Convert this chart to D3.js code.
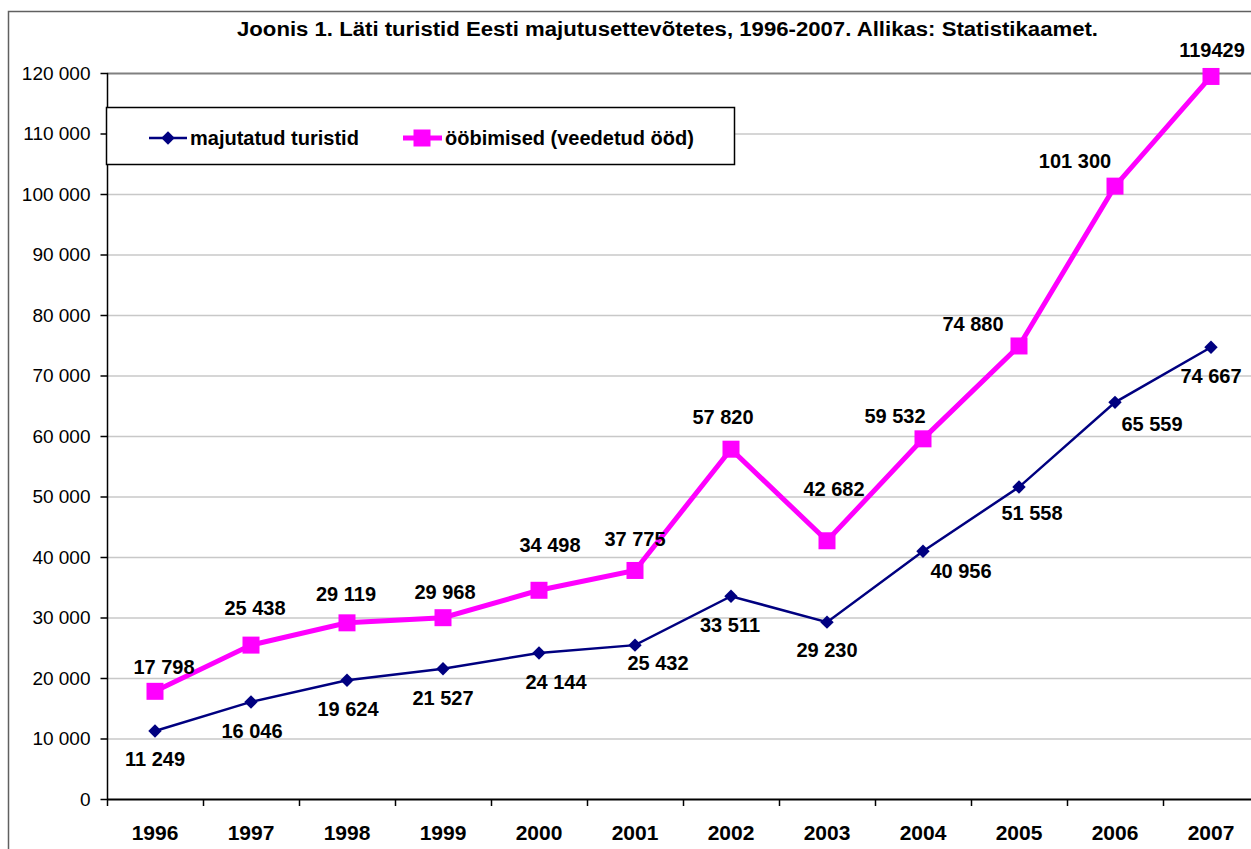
<!DOCTYPE html>
<html>
  <head>
    <meta charset="utf-8" />
    <script src="https://d3js.org/d3.v7.min.js"></script>
    <title>Läti turistid Eesti majutusettevõtetes</title>
    <style>
      body {
        margin: 0;
        background-color: white;
      }
      #canvas {
        display: block;
        overflow: hidden;
        font-family: "Liberation Sans", Arial, sans-serif;
      }
    </style>
  </head>
  <body>
    <svg id="canvas" width="1251" height="849"></svg>

    <script>
      // data
      const years = ["1996", "1997", "1998", "1999", "2000", "2001", "2002", "2003", "2004", "2005", "2006", "2007"];
      const tourists = [11249, 16046, 19624, 21527, 24144, 25432, 33511, 29230, 40956, 51558, 65559, 74667];
      const nights = [17798, 25438, 29119, 29968, 34498, 37775, 57820, 42682, 59532, 74880, 101300, 119429];
      const touristLabels = ["11 249", "16 046", "19 624", "21 527", "24 144", "25 432", "33 511", "29 230", "40 956", "51 558", "65 559", "74 667"];
      const nightLabels = ["17 798", "25 438", "29 119", "29 968", "34 498", "37 775", "57 820", "42 682", "59 532", "74 880", "101 300", "119429"];
      const yTicks = [0, 10000, 20000, 30000, 40000, 50000, 60000, 70000, 80000, 90000, 100000, 110000, 120000];
      const seriesNames = ["majutatud turistid", "ööbimised (veedetud ööd)"];
      const title = "Joonis 1. Läti turistid Eesti majutusettevõtetes, 1996-2007. Allikas: Statistikaamet.";

      // label nudges (px) relative to the point, as placed in the original
      const touristShift = [[0, 28], [1, 29], [1, 29], [0, 29], [17, 29], [23, 18], [-1, 29], [0, 28], [38, 20], [13, 26], [37, 21], [0, 29]];
      const nightShift = [[9, -25], [4, -37], [-1, -29], [2, -26], [11, -45], [0, -32], [-8, -32], [7, -52], [-28, -23], [-46, -22], [-40, -25], [1, -27]];

      const svg = d3.select("#canvas");

      // outer chart frame (right and bottom edges fall outside the picture)
      svg.append("path")
        .attr("d", "M8.5,849 V11.5 H1251")
        .style("fill", "none")
        .style("stroke", "#606060")
        .style("stroke-width", 1.5);

      const plotLeft = 107, plotTop = 73, plotBottom = 799, band = 96;

      const xScale = d3.scaleBand().domain(years).range([plotLeft, plotLeft + band * years.length]);
      const yScale = d3.scaleLinear().domain([0, 120000]).range([plotBottom, plotTop]);
      const fmt = d3.formatLocale({ decimal: ",", thousands: " ", grouping: [3], currency: ["", ""] }).format(",d");
      const cx = (d, i) => xScale(years[i]) + xScale.bandwidth() / 2;

      // gridlines
      svg.append("g")
        .selectAll("line")
        .data(yTicks.filter((d) => d > 0))
        .enter()
        .append("line")
        .attr("x1", plotLeft)
        .attr("x2", 1251)
        .attr("y1", (d) => yScale(d) + 0.5)
        .attr("y2", (d) => yScale(d) + 0.5)
        .style("stroke", (d) => (d === 120000 ? "#808080" : "#c8c8c8"))
        .style("stroke-width", (d) => (d === 120000 ? 2 : 1.5));

      // y axis
      const yAxis = d3.axisLeft(yScale).tickValues(yTicks).tickFormat(fmt).tickSize(7).tickPadding(10);
      const yG = svg.append("g").attr("transform", "translate(" + (plotLeft + 0.5) + ",0)").call(yAxis);
      yG.select(".domain").attr("d", "M0," + plotTop + "V" + plotBottom).style("stroke", "#000").style("stroke-width", 1.5);
      yG.selectAll(".tick line").style("stroke", "#000").style("stroke-width", 1.5);
      yG.selectAll(".tick text").style("font-size", "19px").style("fill", "#000").attr("dy", "0.34em");
      yG.attr("font-family", null);

      // x axis: ticks between categories, labels centred
      const xG = svg.append("g");
      xG.append("line")
        .attr("x1", plotLeft)
        .attr("x2", 1251)
        .attr("y1", plotBottom + 0.5)
        .attr("y2", plotBottom + 0.5)
        .style("stroke", "#000")
        .style("stroke-width", 2);
      xG.selectAll(".xtick")
        .data(years)
        .enter()
        .append("line")
        .attr("class", "xtick")
        .attr("x1", (d) => xScale(d) + 0.5)
        .attr("x2", (d) => xScale(d) + 0.5)
        .attr("y1", plotBottom)
        .attr("y2", plotBottom + 7)
        .style("stroke", "#000")
        .style("stroke-width", 1.5);
      xG.selectAll(".xlabel")
        .data(years)
        .enter()
        .append("text")
        .attr("class", "xlabel")
        .attr("x", (d) => xScale(d) + xScale.bandwidth() / 2)
        .attr("y", 840)
        .attr("text-anchor", "middle")
        .style("font-size", "21px")
        .style("font-weight", "bold")
        .text((d) => d);

      // title
      svg.append("text")
        .attr("x", 237)
        .attr("y", 36)
        .attr("textLength", 861)
        .attr("lengthAdjust", "spacingAndGlyphs")
        .style("font-size", "20px")
        .style("font-weight", "bold")
        .text(title);

      const lineGen = d3.line().x((d, i) => cx(d, i)).y((d) => yScale(d));

      // ööbimised
      svg.append("path")
        .datum(nights)
        .attr("d", lineGen)
        .style("fill", "none")
        .style("stroke", "#ff00ff")
        .style("stroke-width", 5);
      svg.append("g")
        .selectAll("path")
        .data(nights)
        .enter()
        .append("path")
        .attr("d", d3.symbol(d3.symbolSquare, 289))
        .attr("transform", (d, i) => "translate(" + cx(d, i) + "," + yScale(d) + ")")
        .style("fill", "#ff00ff");

      // majutatud turistid
      svg.append("path")
        .datum(tourists)
        .attr("d", lineGen)
        .style("fill", "none")
        .style("stroke", "#000080")
        .style("stroke-width", 2.5);
      svg.append("g")
        .selectAll("path")
        .data(tourists)
        .enter()
        .append("path")
        .attr("d", d3.symbol(d3.symbolSquare, 90))
        .attr("transform", (d, i) => "translate(" + cx(d, i) + "," + yScale(d) + ") rotate(45)")
        .style("fill", "#000080");

      // data labels
      function labels(values, texts, shift) {
        svg.append("g")
          .selectAll("text")
          .data(values)
          .enter()
          .append("text")
          .attr("x", (d, i) => cx(d, i) + shift[i][0])
          .attr("y", (d, i) => yScale(d) + shift[i][1])
          .attr("dy", "0.36em")
          .attr("text-anchor", "middle")
          .style("font-size", "20px")
          .style("font-weight", "bold")
          .text((d, i) => texts[i]);
      }
      labels(nights, nightLabels, nightShift);
      labels(tourists, touristLabels, touristShift);

      // legend
      const legend = svg.append("g");
      legend.append("rect")
        .attr("x", 106.5)
        .attr("y", 107.5)
        .attr("width", 628)
        .attr("height", 57)
        .style("fill", "white")
        .style("stroke", "#000")
        .style("stroke-width", 1.5);

      const ly = 138;
      legend.append("line")
        .attr("x1", 149).attr("x2", 187).attr("y1", ly).attr("y2", ly)
        .style("stroke", "#000080").style("stroke-width", 2.5);
      legend.append("path")
        .attr("d", d3.symbol(d3.symbolSquare, 90))
        .attr("transform", "translate(168," + ly + ") rotate(45)")
        .style("fill", "#000080");
      legend.append("text")
        .attr("x", 190).attr("y", ly).attr("dy", "0.36em")
        .style("font-size", "20px").style("font-weight", "bold")
        .text(seriesNames[0]);

      legend.append("line")
        .attr("x1", 403).attr("x2", 442).attr("y1", ly).attr("y2", ly)
        .style("stroke", "#ff00ff").style("stroke-width", 5);
      legend.append("path")
        .attr("d", d3.symbol(d3.symbolSquare, 289))
        .attr("transform", "translate(422," + ly + ")")
        .style("fill", "#ff00ff");
      legend.append("text")
        .attr("x", 445).attr("y", ly).attr("dy", "0.36em")
        .style("font-size", "20px").style("font-weight", "bold")
        .text(seriesNames[1]);
    </script>
  </body>
</html>
